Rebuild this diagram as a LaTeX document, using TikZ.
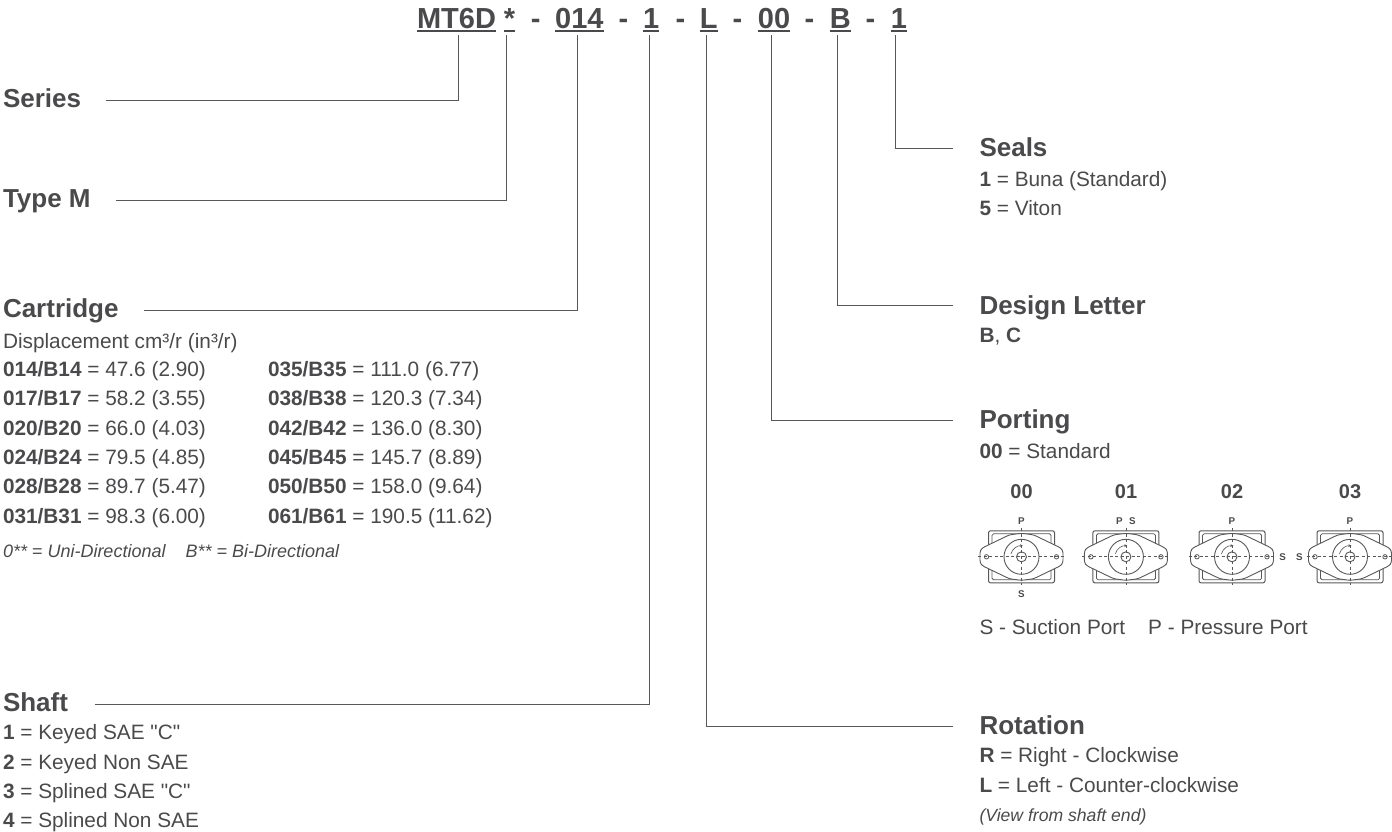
\documentclass[tikz,border=0pt]{standalone}
\usepackage{fontspec}
\setmainfont{Liberation Sans}[Ligatures=TeXOff]
\usetikzlibrary{arrows.meta}
\definecolor{ink}{HTML}{4A4A4C}
\definecolor{wire}{HTML}{58585A}
\tikzset{
  x=1pt,y=-1pt,
  txt/.style={anchor=base west,inner sep=0pt,outer sep=0pt,text=ink,font=\fontsize{20.8}{23}\selectfont},
  head/.style={txt,font=\fontsize{26}{29}\bfseries\selectfont},
  small/.style={txt,font=\fontsize{17.6}{20}\itshape\selectfont},
  code/.style={anchor=base,inner sep=0pt,outer sep=0pt,text=ink,font=\fontsize{29}{32}\bfseries\selectfont},
  lbl/.style={anchor=base,inner sep=0pt,outer sep=0pt,text=ink,font=\fontsize{20}{22}\bfseries\selectfont},
  port/.style={anchor=base,inner sep=0pt,outer sep=0pt,text=ink,font=\fontsize{9.8}{12}\bfseries\selectfont},
  wire/.style={draw=wire,line width=1pt},
  uline/.style={draw=ink,line width=1.3pt},
  motor/.pic={
    \draw[wire,line width=1pt,rounded corners=2pt] (-33,-26) rectangle (33,26);
    \draw[wire,line width=.8pt,rounded corners=1.5pt] (-29.5,-23) rectangle (29.5,23);
    \draw[wire,line width=.9pt,fill=white,rounded corners=2.5pt]
      (0,-23.5) -- (12,-22) -- (39,-9) -- (41.5,-6) -- (41.5,6) -- (39,9) -- (12,22) -- (0,23.5)
      -- (-12,22) -- (-39,9) -- (-41.5,6) -- (-41.5,-6) -- (-39,-9) -- (-12,-22) -- cycle;
    \draw[wire,line width=.9pt] (0,0) circle (17.5);
    \draw[wire,line width=.9pt] (0,0) circle (5);
    \draw[wire,line width=.8pt] (-35,0) circle (2.2);
    \draw[wire,line width=.8pt] (35,0) circle (2.2);
    \draw[wire,line width=.7pt,dash pattern=on 3pt off 2.5pt] (-43.5,0) -- (43.5,0);
    \draw[wire,line width=.7pt,dash pattern=on 3pt off 2.5pt] (0,-28.5) -- (0,28.5);
    \draw[wire,line width=.6pt,-{Stealth[length=3.2pt,width=2.6pt]}] (195:11) arc[start angle=195,end angle=278,radius=11];
  }
}
\begin{document}
\begin{tikzpicture}
\useasboundingbox (0,0) rectangle (1392,831);
% part code
\node[code] (c1) at (456.5,28) {MT6D};
\node[code] (c2) at (509.5,28) {*};
\node[code] (d1) at (535.8,28) {-};
\node[code] (c3) at (579.4,28) {014};
\node[code] (d2) at (623.5,28) {-};
\node[code] (c4) at (651.3,28) {1};
\node[code] (d3) at (680.5,28) {-};
\node[code] (c5) at (708.7,28) {L};
\node[code] (d4) at (737.5,28) {-};
\node[code] (c6) at (774,28) {00};
\node[code] (d5) at (809.5,28) {-};
\node[code] (c7) at (840.3,28) {B};
\node[code] (d6) at (870.5,28) {-};
\node[code] (c8) at (899,28) {1};
\foreach \n in {c1,c2,c3,c4,c5,c6,c7,c8}
  \draw[uline] ([yshift=-3pt]\n.base west) -- ([yshift=-3pt]\n.base east);
% left headings
\node[head] (series) at (3,107.5) {Series};
\node[head] (typem) at (3,207) {Type M};
\node[head] (cart) at (3,317) {Cartridge};
\node[head] (shaft) at (3,711) {Shaft};
% right headings
\node[head] (seals) at (979.5,156.7) {Seals};
\node[head] (design) at (979.5,314) {Design Letter};
\node[head] (porting) at (979.5,428.3) {Porting};
\node[head] (rotation) at (979.5,734) {Rotation};
% connector anchors
\coordinate (t1) at (458,35); \coordinate (b1) at (458,100.7); \coordinate (e1) at (106,100.7);
\coordinate (t2) at (506,35); \coordinate (b2) at (506,200.7); \coordinate (e2) at (116,200.7);
\coordinate (t3) at (577,35); \coordinate (b3) at (577,310.7); \coordinate (e3) at (144,310.7);
\coordinate (t4) at (649,35); \coordinate (b4) at (649,704); \coordinate (e4) at (95,704);
\coordinate (t5) at (706,35); \coordinate (b5) at (706,726); \coordinate (e5) at (953,726);
\coordinate (t6) at (771,35); \coordinate (b6) at (771,420.7); \coordinate (e6) at (953,420.7);
\coordinate (t7) at (837.6,35); \coordinate (b7) at (837.6,305.3); \coordinate (e7) at (953,305.3);
\coordinate (t8) at (895.5,35); \coordinate (b8) at (895.5,148.7); \coordinate (e8) at (953,148.7);
\foreach \i in {1,...,8} \draw[wire] (t\i) -- (b\i) -- (e\i);
% cartridge
\node[txt] (disp) at (3,348) {Displacement cm³/r (in³/r)};
\node[txt] (a1) at (3,376.7) {\textbf{014/B14} = 47.6 (2.90)};
\node[txt] (a2) at (3,405.8) {\textbf{017/B17} = 58.2 (3.55)};
\node[txt] (a3) at (3,435) {\textbf{020/B20} = 66.0 (4.03)};
\node[txt] (a4) at (3,464) {\textbf{024/B24} = 79.5 (4.85)};
\node[txt] (a5) at (3,493.3) {\textbf{028/B28} = 89.7 (5.47)};
\node[txt] (a6) at (3,523) {\textbf{031/B31} = 98.3 (6.00)};
\node[txt] (r1) at (268,376.7) {\textbf{035/B35} = 111.0 (6.77)};
\node[txt] (r2) at (268,405.8) {\textbf{038/B38} = 120.3 (7.34)};
\node[txt] (r3) at (268,435) {\textbf{042/B42} = 136.0 (8.30)};
\node[txt] (r4) at (268,464) {\textbf{045/B45} = 145.7 (8.89)};
\node[txt] (r5) at (268,493.3) {\textbf{050/B50} = 158.0 (9.64)};
\node[txt] (r6) at (268,523) {\textbf{061/B61} = 190.5 (11.62)};
\node[small,font=\fontsize{18}{20}\itshape\selectfont] (dir) at (3,557) {0** = Uni-Directional\hspace{20pt}B** = Bi-Directional};
% shaft
\node[txt] (s1) at (3,739) {\textbf{1} = Keyed SAE "C"};
\node[txt] (s2) at (3,769) {\textbf{2} = Keyed Non SAE};
\node[txt] (s3) at (3,798) {\textbf{3} = Splined SAE "C"};
\node[txt] (s4) at (3,827) {\textbf{4} = Splined Non SAE};
% seals
\node[txt] (se1) at (979.5,186) {\textbf{1} = Buna (Standard)};
\node[txt] (se2) at (979.5,215) {\textbf{5} = Viton};
% design
\node[txt] (de1) at (979.5,342.7) {\textbf{B}, \textbf{C}};
% porting
\node[txt] (po1) at (979.5,458.3) {\textbf{00} = Standard};
\node[lbl] (l0) at (1021.5,498) {00};
\node[lbl] (l1) at (1126,498) {01};
\node[lbl] (l2) at (1232,498) {02};
\node[lbl] (l3) at (1350,498) {03};
\pic (m0) at (1021.5,556.8) {motor};
\pic (m1) at (1125.9,556.8) {motor};
\pic (m2) at (1232,556.8) {motor};
\pic (m3) at (1350,556.8) {motor};
\node[port] (p0) at (1021.5,524.5) {P};
\node[port] (s0) at (1021.5,597) {S};
\node[port] (p1) at (1119.5,524.5) {P};
\node[port] (s1b) at (1132.5,524.5) {S};
\node[port] (p2) at (1232,524.5) {P};
\node[port] (s2b) at (1282.7,560.5) {S};
\node[port] (p3) at (1350,524.5) {P};
\node[port] (s3b) at (1299.5,560.5) {S};
\node[txt] (legend) at (979.5,634.3) {S - Suction Port\hspace{23pt}P - Pressure Port};
% rotation
\node[txt] (ro1) at (979.5,762.7) {\textbf{R} = Right - Clockwise};
\node[txt] (ro2) at (979.5,792.7) {\textbf{L} = Left - Counter-clockwise};
\node[small] (ro3) at (979.5,821.7) {(View from shaft end)};
\end{tikzpicture}
\end{document}
